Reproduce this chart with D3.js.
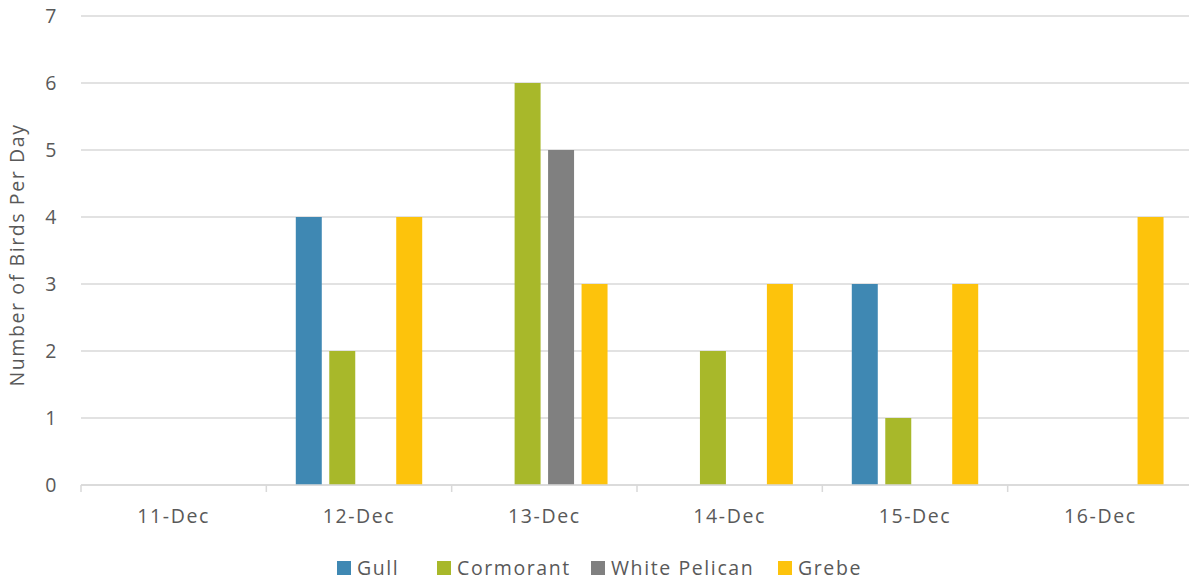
<!DOCTYPE html>
<html>
<head>
<meta charset="utf-8">
<script src="https://cdn.jsdelivr.net/npm/d3@7"></script>
<style>
  body { margin: 0; background: #fff; }
  text { font-family: "Open Sans", "Noto Sans", sans-serif; fill: #595959; font-size: 19.5px; letter-spacing: 1.6px; }
</style>
</head>
<body>
<svg id="chart" width="1189" height="584"></svg>
<script>
const days = ["11-Dec", "12-Dec", "13-Dec", "14-Dec", "15-Dec", "16-Dec"];
const seriesNames = ["Gull", "Cormorant", "White Pelican", "Grebe"];
const gull = [0, 4, 0, 0, 3, 0];
const cormorant = [0, 2, 6, 2, 1, 0];
const pelican = [0, 0, 5, 0, 0, 0];
const grebe = [0, 4, 3, 3, 3, 4];
const yTicks = [0, 1, 2, 3, 4, 5, 6, 7];
const colors = ["#3f88b3", "#a8b82a", "#808080", "#fdc30c"];

(function() {
  const values = [gull, cormorant, pelican, grebe];
  const svg = d3.select("#chart");
  const mLeft = 81, mRight = 1193, mTop = 16, mBottom = 485;

  const x0 = d3.scaleBand().domain(days).range([mLeft, mRight]);
  const x1 = d3.scaleBand().domain(seriesNames)
    .range([0, x0.bandwidth()]).paddingInner(0.224).paddingOuter(0.88);
  const y = d3.scaleLinear().domain([0, 7]).range([mBottom, mTop]);

  // gridlines
  svg.append("g")
    .selectAll("line")
    .data(yTicks)
    .enter()
    .append("line")
    .attr("x1", mLeft).attr("x2", mRight)
    .attr("y1", d => y(d)).attr("y2", d => y(d))
    .style("stroke", "#d9d9d9").style("stroke-width", 1.5);

  // y labels
  svg.append("g")
    .selectAll("text")
    .data(yTicks)
    .enter()
    .append("text")
    .attr("x", 58).attr("y", d => y(d))
    .attr("dy", "0.35em")
    .attr("text-anchor", "end")
    .text(d => d);

  // bars
  days.forEach((day, i) => {
    svg.append("g")
      .attr("transform", `translate(${x0(day)},0)`)
      .selectAll("rect")
      .data(seriesNames.map((s, j) => ({ s, v: values[j][i], c: colors[j] })))
      .enter()
      .append("rect")
      .attr("x", d => x1(d.s))
      .attr("width", x1.bandwidth())
      .attr("y", d => y(d.v))
      .attr("height", d => y(0) - y(d.v))
      .style("fill", d => d.c);
  });

  // x axis line + ticks
  svg.append("line")
    .attr("x1", mLeft).attr("x2", mRight).attr("y1", mBottom).attr("y2", mBottom)
    .style("stroke", "#d9d9d9").style("stroke-width", 1.5);
  svg.append("g")
    .selectAll("line")
    .data(days)
    .enter()
    .append("line")
    .attr("x1", d => x0(d)).attr("x2", d => x0(d))
    .attr("y1", mBottom).attr("y2", mBottom + 7)
    .style("stroke", "#d9d9d9").style("stroke-width", 1.5);

  svg.append("g")
    .selectAll("text")
    .data(days)
    .enter()
    .append("text")
    .attr("x", d => x0(d) + x0.bandwidth() / 2)
    .attr("y", 523)
    .attr("text-anchor", "middle")
    .text(d => d);

  // y title
  svg.append("text")
    .attr("transform", "translate(24,255) rotate(-90)")
    .attr("text-anchor", "middle")
    .text("Number of Birds Per Day");

  // legend
  const legendX = [337, 437, 591, 778];
  const legend = svg.append("g")
    .selectAll("g")
    .data(seriesNames)
    .enter()
    .append("g")
    .attr("transform", (d, i) => `translate(${legendX[i]},568)`);
  legend.append("rect")
    .attr("x", 0).attr("y", -7).attr("width", 14).attr("height", 14)
    .style("fill", (d, i) => colors[i]);
  legend.append("text")
    .attr("x", 20).attr("dy", "0.35em")
    .text(d => d);
})();
</script>
</body>
</html>
